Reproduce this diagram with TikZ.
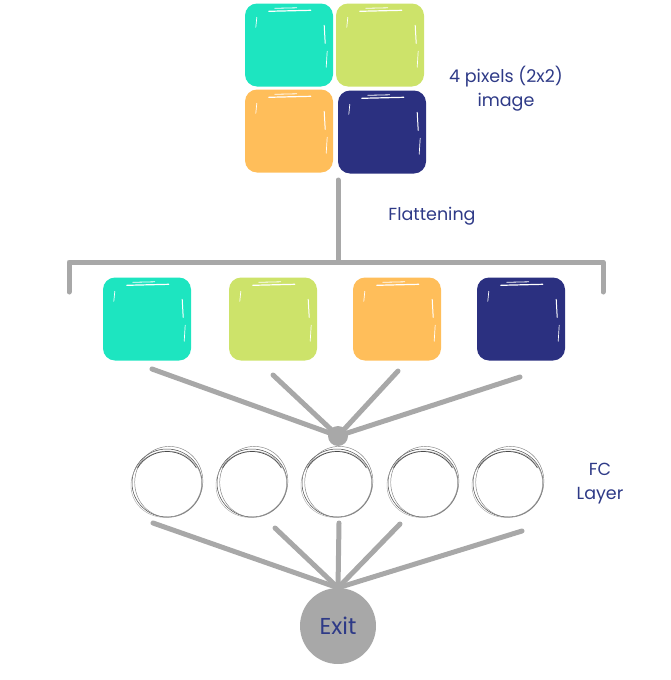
\documentclass[tikz,border=0pt]{standalone}
\usepackage{fontspec}
\setmainfont{Poppins}
\definecolor{cteal}{HTML}{1DE5C0}
\definecolor{clime}{HTML}{CDE36A}
\definecolor{corange}{HTML}{FFBE5A}
\definecolor{cnavy}{HTML}{2B3080}
\definecolor{ctext}{HTML}{2E3A87}
\definecolor{cline}{HTML}{A8A8A8}
\definecolor{cring}{HTML}{4A4A4A}
\tikzset{
  px/.style={rounded corners=12pt, minimum width=88pt, minimum height=83pt, inner sep=0pt},
  conn/.style={draw=cline, line width=5pt, line cap=round},
  lbl/.style={text=ctext, font=\fontsize{17.5}{24}\selectfont, align=center},
  ring/.style={minimum size=70pt, inner sep=0pt},
}
\begin{document}
\begin{tikzpicture}[x=1pt,y=-1pt]
\useasboundingbox (0,0) rectangle (671,680);
% top 2x2 image
\node[px, fill=cteal]   (t1) at (289,45) {};
\node[px, fill=clime]   (t2) at (380,45) {};
\node[px, fill=corange] (t3) at (289,131) {};
\node[px, fill=cnavy]   (t4) at (382,132) {};
\node[lbl] (imglbl) at (506,89) {4 pixels (2x2)\\image};
% flattening
\coordinate (ftop) at (338,180);
\coordinate (fmid) at (338,262);
\coordinate (bl) at (69,262);
\coordinate (br) at (603,262);
\coordinate (bld) at (69,292);
\coordinate (brd) at (603,292);
\draw[conn, line cap=round, line join=round] (ftop) -- (fmid);
\draw[conn, line join=round] (bld) -- (bl) -- (br) -- (brd);
\node[lbl] (flat) at (432,216) {Flattening};
% flattened row
\node[px, fill=cteal]   (r1) at (147,319) {};
\node[px, fill=clime]   (r2) at (273,319) {};
\node[px, fill=corange] (r3) at (397,319) {};
\node[px, fill=cnavy]   (r4) at (521,319) {};
% brush highlights
\foreach \n in {t1,t2,t3,t4,r1,r2,r3,r4}{
  \draw[white, line width=1.2pt, line cap=round] ([shift={(24,8)}]\n.north west) -- ([shift={(66,7)}]\n.north west);
  \draw[white, line width=0.8pt, line cap=round] ([shift={(30,5)}]\n.north west) -- ([shift={(52,4.5)}]\n.north west);
  \draw[white, line width=1pt, line cap=round] ([shift={(-9,22)}]\n.north east) -- ([shift={(-8,40)}]\n.north east);
  \draw[white, line width=0.7pt, line cap=round] ([shift={(-6,48)}]\n.north east) -- ([shift={(-7,64)}]\n.north east);
  \draw[white, line width=0.7pt, line cap=round] ([shift={(12,14)}]\n.north west) -- ([shift={(11,24)}]\n.north west);
}
% hub
\node[circle, fill=cline, minimum size=20pt, inner sep=0pt] (hub) at (338,436) {};
\coordinate (s1) at (152,369);
\coordinate (s2) at (273,375);
\coordinate (s3) at (398,371);
\coordinate (s4) at (520,377);
\foreach \s in {s1,s2,s3,s4} \draw[conn] (\s) -- (hub.center);
% FC layer rings
\foreach \i/\x in {1/167,2/252,3/337,4/423,5/508}{
  \node[ring] (c\i) at (\x,483) {};
  \draw[cring, line width=0.5pt] (c\i.center) ellipse [x radius=35pt, y radius=34pt];
  \draw[cring!70, line width=0.45pt, rotate around={-12:(c\i.center)}] ([shift={(1.5,-1.5)}]c\i.center) ellipse [x radius=34pt, y radius=35.5pt];
  \draw[cring!50, line width=0.4pt, rotate around={15:(c\i.center)}] ([shift={(-1,1)}]c\i.center) ellipse [x radius=35.5pt, y radius=33pt];
  \draw[cring, line width=0.7pt] ([shift={(0,2)}]c\i.center) ++(-30:34) arc[start angle=-30, end angle=-150, x radius=34pt, y radius=-33pt];
}
\node[lbl] (fclbl) at (600,484) {FC\\Layer};
% exit
\node[circle, fill=cline, minimum size=76pt, inner sep=0pt, text=ctext, font=\fontsize{23}{26}\selectfont] (exit) at (338,626) {Exit};
\coordinate (e1) at (153,523);
\coordinate (e2) at (275,528);
\coordinate (e3) at (339,523);
\coordinate (e4) at (400,524);
\coordinate (e5) at (522,531);
\foreach \e in {e1,e2,e3,e4,e5} \draw[conn] (\e) -- (exit.north);
\end{tikzpicture}
\end{document}
